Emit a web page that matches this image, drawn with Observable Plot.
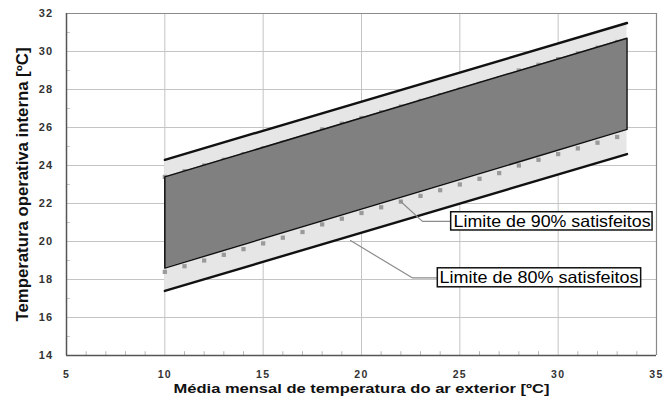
<!DOCTYPE html>
<html>
<head>
<meta charset="utf-8">
<script src="https://cdn.jsdelivr.net/npm/d3@7"></script>
<script src="https://cdn.jsdelivr.net/npm/@observablehq/plot@0.6"></script>
<style>
  html, body { margin: 0; padding: 0; background: #fff; }
  svg { display: block; }
</style>
</head>
<body>
<div id="chart"></div>
<script>
// ---- data ----
const xEnds = [10, 33.5];
const upper80 = [24.3, 31.5];
const lower80 = [17.4, 24.6];
const upper90 = [23.4, 30.7];
const lower90 = [18.6, 25.9];

const dotX = [10,11,12,13,14,15,16,17,18,19,20,21,22,23,24,25,26,27,28,29,30,31,32,33];
const dotUpper = [23.4,23.7,24.0,24.3,24.6,24.9,25.2,25.5,25.9,26.2,26.5,26.8,27.1,27.4,27.7,28.0,28.3,28.6,29.0,29.3,29.6,29.9,30.2,30.5];
const dotLower = [18.4,18.7,19.0,19.3,19.6,19.9,20.2,20.5,20.9,21.2,21.5,21.8,22.1,22.4,22.7,23.0,23.3,23.6,24.0,24.3,24.6,24.9,25.2,25.5];

const xTicks = [5, 10, 15, 20, 25, 30, 35];
const yTicks = [14, 16, 18, 20, 22, 24, 26, 28, 30, 32];
const xMinor = [6,7,8,9,11,12,13,14,16,17,18,19,21,22,23,24,26,27,28,29,31,32,33,34];
const yMinor = [15,17,19,21,23,25,27,29,31];

const labelTexts = ["Limite de 90% satisfeitos", "Limite de 80% satisfeitos"];
const xTitle = "Média mensal de temperatura do ar exterior [ºC]";
const yTitle = "Temperatura operativa interna [ºC]";

// ---- derived tables ----
const band = xEnds.map((x, i) => ({x, lo80: lower80[i], hi80: upper80[i], lo90: lower90[i], hi90: upper90[i]}));
const dotsU = dotX.map((x, i) => ({x, y: dotUpper[i]}));
const dotsL = dotX.map((x, i) => ({x, y: dotLower[i]}));
const outline90 = [
  {x: xEnds[0], y: lower90[0]}, {x: xEnds[0], y: upper90[0]},
  {x: xEnds[1], y: upper90[1]}, {x: xEnds[1], y: lower90[1]},
  {x: xEnds[0], y: lower90[0]}
];
const line80u = xEnds.map((x, i) => ({x, y: upper80[i]}));
const line80l = xEnds.map((x, i) => ({x, y: lower80[i]}));

// annotation layout (data coordinates)
const boxes = [
  {x1: 24.56, x2: 34.8, y1: 20.58, y2: 21.54, cx: 29.69, cy: 21.06, text: labelTexts[0], len: 197},
  {x1: 23.88, x2: 34.22, y1: 17.59, y2: 18.59, cx: 29.03, cy: 18.09, text: labelTexts[1], len: 199}
];
const leaders = [
  {id: 0, x: 21.98, y: 22.12}, {id: 0, x: 23.1, y: 21.06}, {id: 0, x: 24.56, y: 21.06},
  {id: 1, x: 19.44, y: 20.05}, {id: 1, x: 22.58, y: 18.09}, {id: 1, x: 23.88, y: 18.09}
];
const stretch = {[labelTexts[0]]: 197, [labelTexts[1]]: 199, [xTitle]: 376, [yTitle]: 274};

const chart = Plot.plot({
  width: 664,
  height: 403,
  marginLeft: 66,
  marginRight: 8,
  marginTop: 13,
  marginBottom: 48,
  style: {fontFamily: "'Liberation Sans', Arial, sans-serif", background: "#fff"},
  x: {domain: [5, 35], ticks: xTicks},
  y: {domain: [14, 32], ticks: yTicks},
  marks: [
    Plot.gridX([10, 15, 20, 25, 30], {stroke: "#c4c4c4", strokeOpacity: 1, strokeWidth: 1}),
    Plot.gridY([16, 18, 20, 22, 24, 26, 28, 30], {stroke: "#c4c4c4", strokeOpacity: 1, strokeWidth: 1}),
    Plot.ruleX(xMinor, {y1: 14, y2: 14.2, stroke: "#b8b8b8"}),
    Plot.ruleY(yMinor, {x1: 5, x2: 5.2, stroke: "#c8c8c8"}),
    Plot.ruleX([35], {stroke: "#8a8a8a", strokeWidth: 1.2}),
    Plot.ruleY([32], {stroke: "#8a8a8a", strokeWidth: 1.2}),
    Plot.areaY(band, {x: "x", y1: "lo80", y2: "hi80", fill: "#e6e6e6"}),
    Plot.dot(dotsU, {x: "x", y: "y", symbol: "square", r: 2.4, fill: "#9a9a9a"}),
    Plot.areaY(band, {x: "x", y1: "lo90", y2: "hi90", fill: "#808080"}),
    Plot.dot(dotsL, {x: "x", y: "y", symbol: "square", r: 2.4, fill: "#9a9a9a"}),
    Plot.line(outline90, {x: "x", y: "y", stroke: "#111", strokeWidth: 1.5}),
    Plot.line(line80u, {x: "x", y: "y", stroke: "#111", strokeWidth: 2.4}),
    Plot.line(line80l, {x: "x", y: "y", stroke: "#111", strokeWidth: 2.4}),
    Plot.line(leaders, {x: "x", y: "y", z: "id", stroke: "#8c8c8c", strokeWidth: 1.2}),
    Plot.rect(boxes, {x1: "x1", x2: "x2", y1: "y1", y2: "y2", fill: "#fff", stroke: "#111", strokeWidth: 1.5}),
    Plot.text(boxes, {x: "cx", y: "cy", text: "text", fontSize: 16.5, fill: "#000", textAnchor: "middle"}),
    Plot.ruleX([5], {stroke: "#555", strokeWidth: 1.5}),
    Plot.ruleY([14], {stroke: "#555", strokeWidth: 1.5}),
    Plot.axisX({ticks: xTicks, tickSize: 0, tickPadding: 15, fontSize: 10.5, fontWeight: "bold", fill: "#333", label: null}),
    Plot.axisY({ticks: yTicks, tickSize: 0, tickPadding: 13, fontSize: 11, fontWeight: "bold", fill: "#333", label: null}),
    Plot.text([xTitle], {frameAnchor: "bottom", dy: 37, lineAnchor: "bottom", fontSize: 13.5, fontWeight: "bold", fill: "#111", textAnchor: "middle"}),
    Plot.text([yTitle], {frameAnchor: "left", dx: -44, rotate: -90, fontSize: 16, fontWeight: "bold", fill: "#111", textAnchor: "middle"})
  ]
});

d3.select(chart).selectAll("text").each(function() {
  const t = this.textContent;
  if (stretch[t]) {
    this.setAttribute("textLength", stretch[t]);
    this.setAttribute("lengthAdjust", "spacingAndGlyphs");
  }
});
d3.select(chart).selectAll('g[aria-label="x-axis tick label"] text, g[aria-label="y-axis tick label"] text')
  .attr("letter-spacing", "1.3px");

document.getElementById("chart").appendChild(chart);
</script>
</body>
</html>
